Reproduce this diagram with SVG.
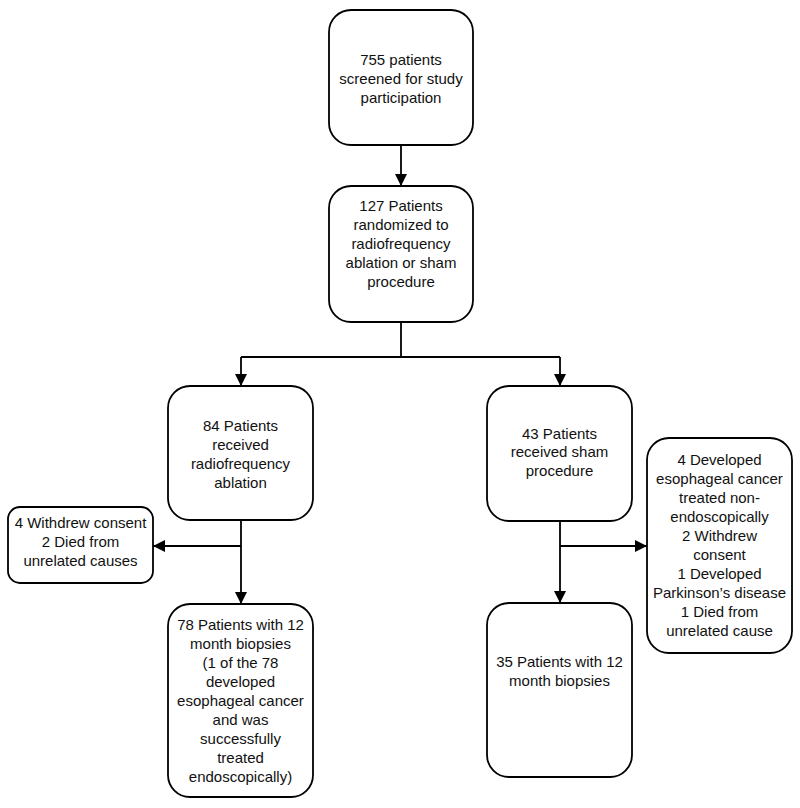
<svg xmlns="http://www.w3.org/2000/svg" width="800" height="808" viewBox="0 0 800 808">
<style>
.box{fill:#fff;stroke:#000;stroke-width:1.8}
.t{font-family:"Liberation Sans",Arial,sans-serif;font-size:15px;fill:#111;text-anchor:middle}
.c{fill:none;stroke:#000;stroke-width:1.8}
</style>
<defs>
<marker id="ah" markerUnits="userSpaceOnUse" markerWidth="12" markerHeight="12" viewBox="0 0 12 12" refX="12" refY="6" orient="auto">
<path d="M0,0 L12,6 L0,12 Z" fill="#000"/>
</marker>
</defs>
<rect width="800" height="808" fill="#fff"/>
<g id="connectors">
<path class="c" d="M401,145 V186" marker-end="url(#ah)"/>
<path class="c" d="M401,322 V357"/>
<path class="c" d="M241,357 H560"/>
<path class="c" d="M241,357 V386" marker-end="url(#ah)"/>
<path class="c" d="M560,357 V386" marker-end="url(#ah)"/>
<path class="c" d="M241,520 V604" marker-end="url(#ah)"/>
<path class="c" d="M241,546 H153" marker-end="url(#ah)"/>
<path class="c" d="M560,521 V603" marker-end="url(#ah)"/>
<path class="c" d="M560,546 H647" marker-end="url(#ah)"/>
</g>
<g id="screened">
<rect class="box" x="329" y="10" width="144" height="135" rx="22"/>
<text class="t" x="401" y="65">755 patients</text>
<text class="t" x="401" y="84">screened for study</text>
<text class="t" x="401" y="103">participation</text>
</g>
<g id="randomized">
<rect class="box" x="329" y="186" width="144" height="136" rx="22"/>
<text class="t" x="401" y="211">127 Patients</text>
<text class="t" x="401" y="230">randomized to</text>
<text class="t" x="401" y="249">radiofrequency</text>
<text class="t" x="401" y="268">ablation or sham</text>
<text class="t" x="401" y="287">procedure</text>
</g>
<g id="rfa">
<rect class="box" x="168" y="386" width="145" height="134" rx="22"/>
<text class="t" x="240.5" y="431">84 Patients</text>
<text class="t" x="240.5" y="450">received</text>
<text class="t" x="240.5" y="469">radiofrequency</text>
<text class="t" x="240.5" y="488">ablation</text>
</g>
<g id="rfa-excluded">
<rect class="box" x="8" y="507" width="145" height="76" rx="12"/>
<text class="t" x="80.5" y="528">4 Withdrew consent</text>
<text class="t" x="80.5" y="547">2 Died from</text>
<text class="t" x="80.5" y="566">unrelated causes</text>
</g>
<g id="rfa-biopsies">
<rect class="box" x="168" y="604" width="145" height="193" rx="22"/>
<text class="t" x="240.5" y="630">78 Patients with 12</text>
<text class="t" x="240.5" y="649">month biopsies</text>
<text class="t" x="240.5" y="668">(1 of the 78</text>
<text class="t" x="240.5" y="687">developed</text>
<text class="t" x="240.5" y="706">esophageal cancer</text>
<text class="t" x="240.5" y="725">and was</text>
<text class="t" x="240.5" y="744">successfully</text>
<text class="t" x="240.5" y="763">treated</text>
<text class="t" x="240.5" y="782">endoscopically)</text>
</g>
<g id="sham">
<rect class="box" x="487" y="386" width="145" height="135" rx="22"/>
<text class="t" x="559.5" y="438.5">43 Patients</text>
<text class="t" x="559.5" y="457">received sham</text>
<text class="t" x="559.5" y="476">procedure</text>
</g>
<g id="sham-excluded">
<rect class="box" x="647" y="438" width="145" height="215" rx="22"/>
<text class="t" x="719.5" y="465">4 Developed</text>
<text class="t" x="719.5" y="484">esophageal cancer</text>
<text class="t" x="719.5" y="503">treated non-</text>
<text class="t" x="719.5" y="522">endoscopically</text>
<text class="t" x="719.5" y="541">2 Withdrew</text>
<text class="t" x="719.5" y="560">consent</text>
<text class="t" x="719.5" y="579">1 Developed</text>
<text class="t" x="719.5" y="598">Parkinson’s disease</text>
<text class="t" x="719.5" y="617">1 Died from</text>
<text class="t" x="719.5" y="636">unrelated cause</text>
</g>
<g id="sham-biopsies">
<rect class="box" x="487" y="603" width="145" height="174" rx="22"/>
<text class="t" x="559.5" y="667">35 Patients with 12</text>
<text class="t" x="559.5" y="686">month biopsies</text>
</g>
</svg>
